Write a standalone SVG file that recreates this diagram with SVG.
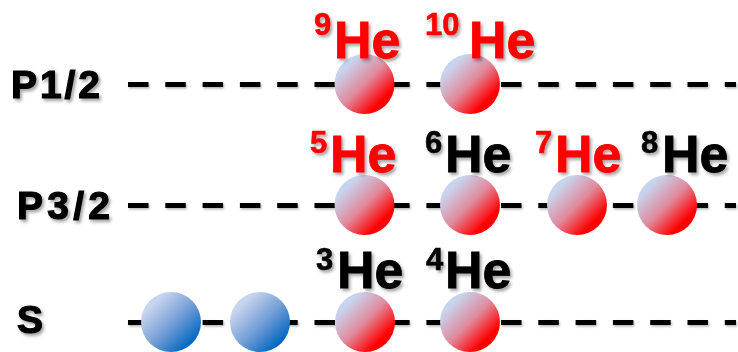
<svg xmlns="http://www.w3.org/2000/svg" width="738" height="352" viewBox="0 0 738 352">
  <defs>
    <linearGradient id="gRed" x1="0" y1="0" x2="1" y2="1">
      <stop offset="0.2" stop-color="#c8d4ee"/>
      <stop offset="0.5" stop-color="#e08a9c"/>
      <stop offset="0.78" stop-color="#ff0000"/>
    </linearGradient>
    <linearGradient id="gBlue" x1="0" y1="0" x2="1" y2="1">
      <stop offset="0.2" stop-color="#c8d4ee"/>
      <stop offset="0.52" stop-color="#76a0d6"/>
      <stop offset="0.85" stop-color="#0066c0"/>
    </linearGradient>
    <filter id="sh" x="-20%" y="-20%" width="150%" height="160%">
      <feDropShadow dx="2" dy="2.5" stdDeviation="1.5" flood-color="#000" flood-opacity="0.35"/>
    </filter>
    <filter id="shl" filterUnits="userSpaceOnUse" x="100" y="0" width="660" height="352">
      <feDropShadow dx="1" dy="1.5" stdDeviation="0.8" flood-color="#000" flood-opacity="0.3"/>
    </filter>
  </defs>
  <style>
    .lvl { font-family: "Liberation Sans", Arial, sans-serif; font-weight: bold; font-size: 39px; fill: #000; stroke: #000; stroke-width: 1.2; filter: url(#sh); }
    .he { font-family: "Liberation Sans", Arial, sans-serif; font-weight: bold; font-size: 52px; stroke-width: 0.8; filter: url(#sh); }
    .num { font-family: "Liberation Sans", Arial, sans-serif; font-weight: bold; font-size: 31px; stroke-width: 0.6; filter: url(#sh); }
    .red { fill: #ff0000; stroke: #ff0000; }
    .blk { fill: #000; stroke: #000; }
    .line { stroke: #000; stroke-width: 5; stroke-dasharray: 20.5 16.8; fill: none; }
    .pr { fill: url(#gRed); }
    .pb { fill: url(#gBlue); }
  </style>

  <g id="levels-labels">
    <text id="label-p12" class="lvl" x="11" y="98" textLength="89">P1/2</text>
    <text id="label-p32" class="lvl" x="17" y="219" textLength="93">P3/2</text>
    <text id="label-s" class="lvl" x="17" y="333">S</text>
  </g>

  <g id="connectors" filter="url(#shl)">
    <line class="line" x1="128" y1="84.5" x2="736" y2="84.5"/>
    <line class="line" x1="128" y1="205.5" x2="736" y2="205.5"/>
    <line class="line" x1="128" y1="322.5" x2="736" y2="322.5"/>
  </g>

  <g id="particles">
    <g id="p12-1"><circle class="pr" cx="364.5" cy="84" r="30"/></g>
    <g id="p12-2"><circle class="pr" cx="470" cy="84" r="30"/></g>
    <g id="p32-1"><circle class="pr" cx="364.5" cy="205" r="30"/></g>
    <g id="p32-2"><circle class="pr" cx="470" cy="205" r="30"/></g>
    <g id="p32-3"><circle class="pr" cx="577" cy="205" r="30"/></g>
    <g id="p32-4"><circle class="pr" cx="667" cy="205" r="30"/></g>
    <g id="s-1"><circle class="pb" cx="171" cy="322" r="30"/></g>
    <g id="s-2"><circle class="pb" cx="260" cy="322" r="30"/></g>
    <g id="s-3"><circle class="pr" cx="365" cy="322" r="30"/></g>
    <g id="s-4"><circle class="pr" cx="470" cy="322" r="30"/></g>
  </g>

  <g id="he9"><text class="num red" x="314" y="35">9</text><text class="he red" x="334" y="58">He</text></g>
  <g id="he10"><text class="num red" x="425" y="35">10</text><text class="he red" x="469" y="58">He</text></g>

  <g id="he5"><text class="num red" x="310" y="153">5</text><text class="he red" x="330" y="172">He</text></g>
  <g id="he6"><text class="num blk" x="425" y="153">6</text><text class="he blk" x="445" y="172">He</text></g>
  <g id="he7"><text class="num red" x="535" y="153">7</text><text class="he red" x="555" y="172">He</text></g>
  <g id="he8"><text class="num blk" x="641" y="153">8</text><text class="he blk" x="662" y="172">He</text></g>

  <g id="he3"><text class="num blk" x="316" y="270">3</text><text class="he blk" x="337" y="288">He</text></g>
  <g id="he4"><text class="num blk" x="426" y="270">4</text><text class="he blk" x="445" y="288">He</text></g>
</svg>
